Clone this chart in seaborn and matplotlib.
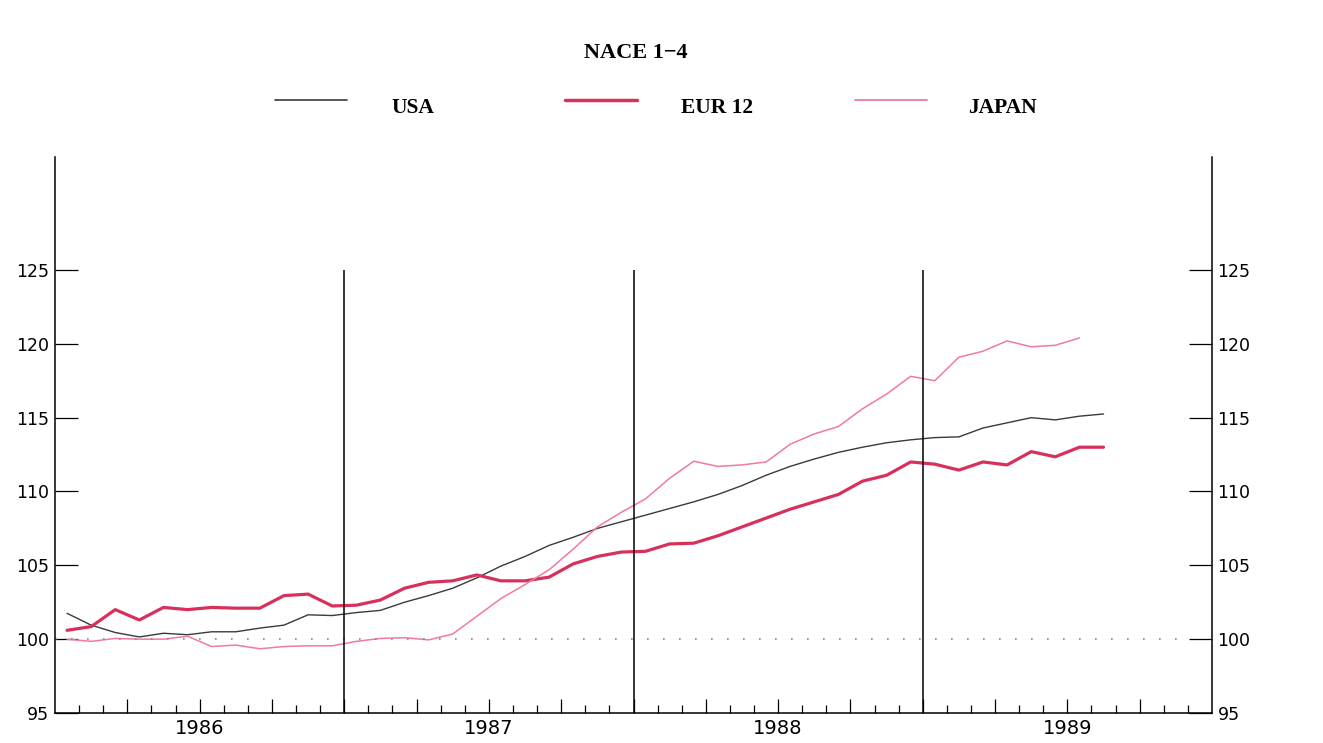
import numpy as np
import pandas as pd
import seaborn as sb
import matplotlib.pyplot as plt
from matplotlib.lines import Line2D

# Monthly index values, Jan 1986 onwards
usa = [101.75, 100.95, 100.45, 100.15, 100.4, 100.3, 100.5, 100.5, 100.75, 100.95, 101.65, 101.6,
       101.8, 101.95, 102.5, 102.95, 103.45, 104.15, 104.95, 105.6, 106.35, 106.9, 107.5, 107.95,
       108.4, 108.85, 109.3, 109.8, 110.4, 111.1, 111.7, 112.2, 112.65, 113.0, 113.3, 113.5,
       113.65, 113.7, 114.3, 114.65, 115.0, 114.85, 115.1, 115.25]
eur12 = [100.6, 100.85, 102.0, 101.3, 102.15, 102.0, 102.15, 102.1, 102.1, 102.95, 103.05, 102.25,
         102.3, 102.65, 103.45, 103.85, 103.95, 104.35, 103.95, 103.95, 104.2, 105.1, 105.6, 105.9,
         105.95, 106.45, 106.5, 107.0, 107.6, 108.2, 108.8, 109.3, 109.8, 110.7, 111.1, 112.0,
         111.85, 111.45, 112.0, 111.8, 112.7, 112.35, 113.0, 113.0]
japan = [100.0, 99.85, 100.05, 100.0, 100.0, 100.2, 99.5, 99.6, 99.35, 99.5, 99.55, 99.55,
         99.85, 100.05, 100.1, 99.95, 100.35, 101.55, 102.75, 103.7, 104.7, 106.1, 107.6, 108.6,
         109.5, 110.9, 112.05, 111.7, 111.8, 112.0, 113.2, 113.9, 114.4, 115.6, 116.6, 117.8,
         117.5, 119.1, 119.5, 120.2, 119.8, 119.9, 120.4]
years = ['1986', '1987', '1988', '1989']
y_ticks = [95, 100, 105, 110, 115, 120, 125]

series = {'USA': usa, 'EUR 12': eur12, 'JAPAN': japan}
colors = {'USA': '#3a3a3a', 'EUR 12': '#d8305c', 'JAPAN': '#f07aa2'}
widths = {'USA': 1.0, 'EUR 12': 2.3, 'JAPAN': 1.1}

rows = []
for name, vals in series.items():
    for i, v in enumerate(vals):
        rows.append((i + 0.5, v, name))  # plotted at mid-month
df = pd.DataFrame(rows, columns=['month', 'value', 'series'])

sb.set_style("white")
plt.rcParams['font.family'] = ['DejaVu Sans']
plt.rcParams['text.color'] = 'black'

W, H = 1323, 743
fig = plt.figure(figsize=(W / 100, H / 100), dpi=100)
ax = fig.add_axes([55 / W, 1 - 713 / H, (1212 - 55) / W, (713 - 157) / H])

sb.lineplot(data=df, x='month', y='value', hue='series', size='series',
            palette=colors, sizes=widths, legend=False, ax=ax)

ax.set_xlim(0, 48)
ax.set_ylim(95, 125 + 113 / 14.767)

# reference line at 100 and year separators
ax.axhline(100, xmin=0, xmax=(1188 - 55) / (1212 - 55), color='#888888',
           lw=1.2, ls=(0, (1, 8.6)))
ax.vlines([12, 24, 36], 95, 125, color='black', lw=1.1)

# axes styling
ax.spines['top'].set_visible(False)
for s in ['left', 'right', 'bottom']:
    ax.spines[s].set_color('black')
    ax.spines[s].set_linewidth(1.1)

ax.set_yticks(y_ticks)
ax.set_yticklabels([str(t) for t in y_ticks], fontsize=12.5)
ax.tick_params(axis='y', direction='in', length=16.5, width=0.9, color='black',
               labelcolor='black', left=True, right=True, labelleft=True,
               labelright=True, pad=4)

major = list(range(3, 48, 3))
ax.set_xticks(major)
ax.set_xticklabels([years[(m - 6) // 12] if (m - 6) % 12 == 0 else '' for m in major],
                   fontsize=14)
ax.set_xticks([m for m in range(1, 48) if m % 3 != 0], minor=True)
ax.tick_params(axis='x', which='major', direction='in', length=10, width=0.9,
               color='black', labelcolor='black', bottom=True, pad=4)
ax.tick_params(axis='x', which='minor', direction='in', length=5.8, width=0.9,
               color='black', bottom=True)
ax.set_xlabel('')
ax.set_ylabel('')
ax.grid(False)

# title and legend
serif = ['Liberation Serif', 'DejaVu Serif']
fig.text(636 / W, 1 - 53 / H, 'NACE 1\u22124', ha='center', va='center',
         fontsize=16, fontweight='bold', family=serif, color='black')
legend_pos = [('USA', 275, 347, 413), ('EUR 12', 565, 637, 717), ('JAPAN', 855, 927, 1002)]
for name, x0, x1, xt in legend_pos:
    fig.add_artist(Line2D([x0 / W, x1 / W], [1 - 100 / H, 1 - 100 / H],
                          color=colors[name], lw=widths[name] + 0.2))
    fig.text(xt / W, 1 - 108 / H, name, ha='center', va='center',
             fontsize=15.5, fontweight='bold', family=serif, color='black')

fig.savefig('out.png', dpi=100)
